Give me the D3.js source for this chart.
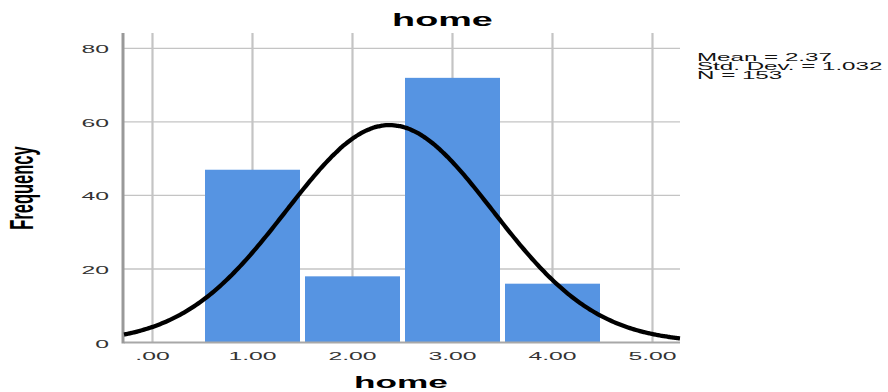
<!DOCTYPE html>
<html><head><meta charset="utf-8">
<script src="https://cdn.jsdelivr.net/npm/d3@7"></script>
<style>html,body{margin:0;padding:0;background:#fff;}svg{display:block;}</style>
</head><body>
<svg id="c" width="888" height="392"></svg>
<script>
const categories = [1, 2, 3, 4];
const frequencies = [47, 18, 72, 16];
const xTicks = [0, 1, 2, 3, 4, 5];
const xTickLabels = [".00", "1.00", "2.00", "3.00", "4.00", "5.00"];
const yTicks = [0, 20, 40, 60, 80];
const statsLines = ["Mean = 2.37", "Std. Dev. = 1.032", "N = 153"];
const mean = 2.37, sd = 1.032, n = 153, binWidth = 1;
const chartTitle = "home", xTitle = "home", yTitle = "Frequency";

(function () {
const svg = d3.select("#c");
const FONT = "'Liberation Sans', Arial, sans-serif";
const pLeft = 124, pRight = 680, pTop = 33, pBottom = 342.5;
const x = d3.scaleLinear().domain([-0.285, 5.275]).range([pLeft, pRight]);
const y = d3.scaleLinear().domain([0, 84.2]).range([pBottom, pTop]);

// gridlines
svg.append("g").selectAll("line").data(yTicks.filter(d => d > 0)).join("line")
  .attr("x1", pLeft).attr("x2", pRight).attr("y1", d => y(d)).attr("y2", d => y(d))
  .attr("stroke", "#c4c4c4").attr("stroke-width", 1.3);
svg.append("g").selectAll("line").data(xTicks).join("line")
  .attr("x1", d => x(d)).attr("x2", d => x(d)).attr("y1", pTop).attr("y2", pBottom)
  .attr("stroke", "#c4c4c4").attr("stroke-width", 2.2);

// bars
svg.append("g").selectAll("rect").data(categories).join("rect")
  .attr("x", (d) => x(d - 0.475))
  .attr("width", (d) => x(d + 0.475) - x(d - 0.475))
  .attr("y", (d, i) => y(frequencies[i]))
  .attr("height", (d, i) => y(0) - y(frequencies[i]))
  .attr("fill", "#5694e2");

// axes lines
svg.append("line").attr("x1", pLeft).attr("x2", pRight).attr("y1", pBottom).attr("y2", pBottom)
  .attr("stroke", "#a8a8a8").attr("stroke-width", 2);
svg.append("line").attr("x1", pLeft - 1).attr("x2", pLeft - 1).attr("y1", pTop).attr("y2", pBottom + 1)
  .attr("stroke", "#999").attr("stroke-width", 3);

// normal curve from shown statistics
const pdf = v => n * binWidth * Math.exp(-0.5 * ((v - mean) / sd) ** 2) / (sd * Math.sqrt(2 * Math.PI));
const xs = d3.range(x.domain()[0], x.domain()[1] + 0.001, 0.02);
svg.append("path").datum(xs)
  .attr("d", d3.line().x(d => x(d)).y(d => y(pdf(d))).curve(d3.curveMonotoneX))
  .attr("fill", "none").attr("stroke", "#000").attr("stroke-width", 4.3);

// y tick labels
svg.append("g").selectAll("text").data(yTicks).join("text")
  .attr("transform", d => `translate(109,${y(d) + 5}) scale(2.25,1)`)
  .attr("text-anchor", "end").attr("font-family", FONT).attr("font-size", 11).attr("fill", "#333")
  .text(d => d);

// x tick labels
svg.append("g").selectAll("text").data(xTicks).join("text")
  .attr("transform", d => `translate(${x(d)},359.5) scale(2.25,1)`)
  .attr("text-anchor", "middle").attr("font-family", FONT).attr("font-size", 11).attr("fill", "#333")
  .text((d, i) => xTickLabels[i]);

// titles
svg.append("text").attr("transform", "translate(442.5,26) scale(2.1,1)")
  .attr("text-anchor", "middle").attr("font-family", FONT).attr("font-size", 18).attr("font-weight", "bold")
  .attr("fill", "#000").text(chartTitle);
svg.append("text").attr("transform", "translate(401,388) scale(2.2,1)")
  .attr("text-anchor", "middle").attr("font-family", FONT).attr("font-size", 16).attr("font-weight", "bold")
  .attr("fill", "#000").text(xTitle);
svg.append("text").attr("transform", "translate(33,188) scale(2.05,1) rotate(-90)")
  .attr("text-anchor", "middle").attr("font-family", FONT).attr("font-size", 16.5).attr("font-weight", "bold")
  .attr("fill", "#000").text(yTitle);

// stats
svg.append("g").selectAll("text").data(statsLines).join("text")
  .attr("transform", (d, i) => `translate(697,${60.5 + i * 9.4}) scale(2.3,1)`)
  .attr("font-family", FONT).attr("font-size", 10.5).attr("fill", "#111")
  .text(d => d);
})();
</script>
</body></html>
